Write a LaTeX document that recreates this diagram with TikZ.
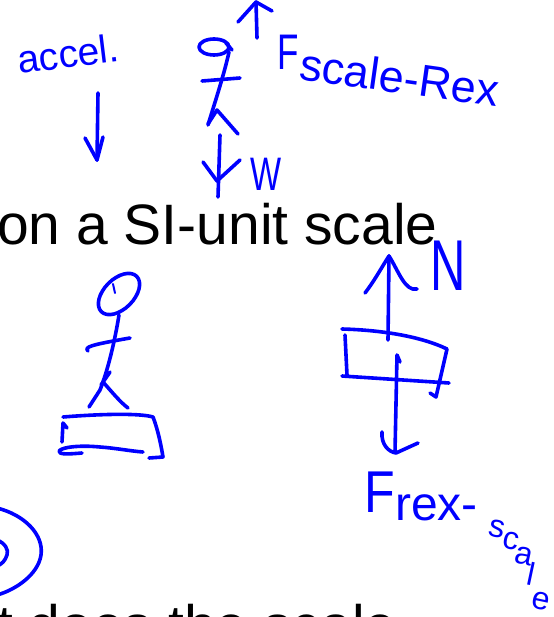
\documentclass[tikz,border=0pt]{standalone}
\usepackage{fontspec}
\setmainfont{Liberation Sans}
\newfontfamily\inkfont{Liberation Sans}
\definecolor{inkblue}{RGB}{0,0,255}
\tikzset{
  ink/.style={draw=inkblue, line width=3.6pt, line cap=round, line join=round},
  inklabel/.style={text=inkblue, inner sep=0pt},
  inkletter/.style={text=inkblue, inner sep=0pt, rotate=-12, font=\inkfont\fontsize{32}{32}\selectfont},
  slidetext/.style={text=black, inner sep=0pt, font=\fontsize{57}{57}\selectfont},
}
\begin{document}
\begin{tikzpicture}[x=1pt,y=-1pt]
\useasboundingbox (0,0) rectangle (553,617);
\clip (0,0) rectangle (553,617);
\fill[white] (0,0) rectangle (553,617);

% typed slide lines
\node[slidetext, anchor=base west] (line1) at (-3,244) {on a SI-unit scale};
\node[slidetext, anchor=base west] (line2) at (-3,645) {t does the scale};

% ---- acceleration
\node[inklabel, anchor=base west, rotate=7, font=\inkfont\fontsize{39}{39}\selectfont] (accel) at (19,74) {accel.};
\draw[ink] (98,93) -- (97,160);
\draw[ink] (85,138) -- (97,160) -- (103,137);

% ---- small figure with its two forces
\draw[ink] (214,47) ellipse [x radius=15, y radius=8];
\draw[ink] (226,43) -- (232,50);
\draw[ink] (229,52) .. controls (224,75) and (214,105) .. (208,125);
\draw[ink] (202,81) -- (240,78);
\draw[ink] (208,124) -- (217,110) -- (238,134);
\draw[ink] (257,38) -- (256,2);
\draw[ink] (238,22) -- (256,2) -- (272,11);
\draw[ink] (220,135) -- (218,197);
\draw[ink] (203,162) -- (217,181) -- (240,160);
\node[inklabel, font=\inkfont\fontsize{47}{47}\selectfont, xscale=0.7] (W) at (266,174) {W};
\node[inklabel, anchor=base west, font=\inkfont\fontsize{50}{50}\selectfont, xscale=0.7] (Fsr) at (277,70) {F};
\node[inklabel, anchor=base west, rotate=-8, font=\inkfont\fontsize{45}{45}\selectfont] (scalerex) at (298,79) {scale-Rex};

% ---- person standing on the scale
\draw[ink, rotate around={45:(119,294)}] (119,294) ellipse [x radius=25, y radius=15];
\draw[ink, line width=2pt] (113,284) -- (115,293);
\draw[ink] (119,315) .. controls (115,340) and (108,370) .. (100,390) -- (89,407);
\draw[ink] (88,351) .. controls (84,347) and (90,345) .. (130,338);
\draw[ink] (101,385) -- (110,372);
\draw[ink] (103,382) .. controls (112,392) and (120,402) .. (128,408);
% scale plate
\draw[ink] (63,417) .. controls (100,414) and (140,413) .. (153,417) .. controls (158,430) and (161,445) .. (163,457) -- (149,458);
\draw[ink] (62,442) -- (63,423) -- (67,428);
\draw[ink] (82,453) .. controls (70,454) and (58,455) .. (59,451) .. controls (62,447) and (80,445) .. (100,447) .. controls (115,448) and (130,451) .. (143,452);

% ---- box with normal force and its reaction
\draw[ink] (388,340) -- (389,256);
\draw[ink] (365,293) .. controls (375,280) and (383,265) .. (389,256) .. controls (398,270) and (405,292) .. (417,289);
\node[inklabel, font=\inkfont\fontsize{72}{72}\selectfont, xscale=0.68] (N) at (448,266) {N};
\draw[ink] (342,329) .. controls (380,330) and (420,336) .. (447,349) -- (436,397) -- (430,393);
\draw[ink] (345,335) -- (347,375);
\draw[ink] (342,376) -- (449,383);
\draw[ink] (400,362) -- (397,355) -- (395,452);
\draw[ink] (382,432) .. controls (381,445) and (389,452) .. (396,453) -- (418,443);
\node[inklabel, anchor=base west, font=\inkfont\fontsize{59}{59}\selectfont, xscale=0.85] (Frs) at (364,512) {F};
\node[inklabel, anchor=base west, font=\inkfont\fontsize{48}{48}\selectfont] (rex) at (395,520) {rex-};
% the word "scale" runs down the corner, letter by letter
\node[inkletter] (ls) at (497,529) {s};
\node[inkletter] (lc) at (511,541) {c};
\node[inkletter] (la) at (524,556) {a};
\node[inkletter] (ll) at (531,574) {l};
\node[inkletter] (le) at (541,601) {e};

% ---- circled mark at the lower left
\draw[ink] (-3,508) .. controls (25,515) and (44,535) .. (41,555) .. controls (38,575) and (15,590) .. (-3,595);
\draw[ink] (-3,540) .. controls (5,543) and (9,550) .. (7,555) .. controls (5,561) and (2,564) .. (-3,566);
\end{tikzpicture}
\end{document}
